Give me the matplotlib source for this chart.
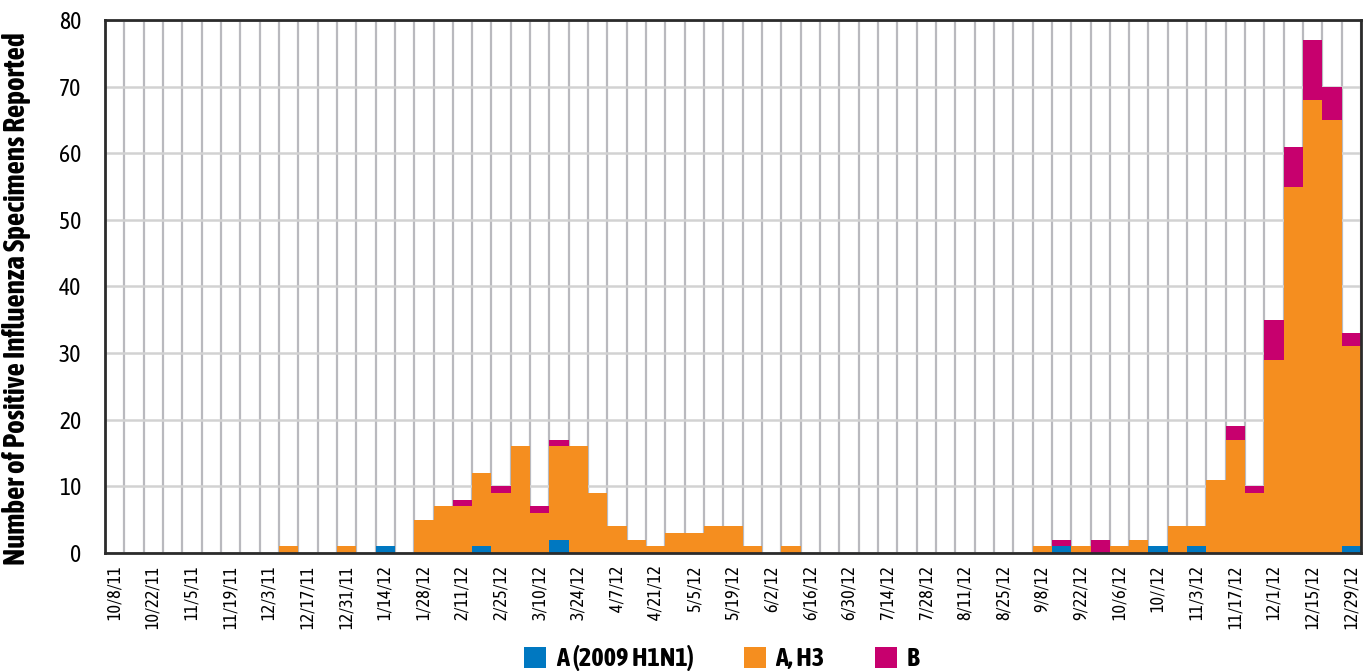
import matplotlib
matplotlib.use("Agg")
import matplotlib.pyplot as plt
from matplotlib import font_manager
import numpy as np

# Datos semanales (10/8/11 a 12/29/12, 65 semanas)
etiquetas = ["10/8/11", "10/22/11", "11/5/11", "11/19/11", "12/3/11", "12/17/11",
             "12/31/11", "1/14/12", "1/28/12", "2/11/12", "2/25/12", "3/10/12",
             "3/24/12", "4/7/12", "4/21/12", "5/5/12", "5/19/12", "6/2/12",
             "6/16/12", "6/30/12", "7/14/12", "7/28/12", "8/11/12", "8/25/12",
             "9/8/12", "9/22/12", "10/6/12", "10//12", "11/3/12", "11/17/12",
             "12/1/12", "12/15/12", "12/29/12"]

h1n1 = [0, 0, 0, 0, 0, 0, 0, 0, 0, 0, 0, 0, 0, 0, 1, 0, 0, 0, 0, 1,
        0, 0, 0, 2, 0, 0, 0, 0, 0, 0, 0, 0, 0, 0, 0, 0, 0, 0, 0, 0,
        0, 0, 0, 0, 0, 0, 0, 0, 0, 1, 0, 0, 0, 0, 1, 0, 1, 0, 0, 0,
        0, 0, 0, 0, 1]

h3 = [0, 0, 0, 0, 0, 0, 0, 0, 0, 1, 0, 0, 1, 0, 0, 0, 5, 7, 7, 11,
      9, 16, 6, 14, 16, 9, 4, 2, 1, 3, 3, 4, 4, 1, 0, 1, 0, 0, 0, 0,
      0, 0, 0, 0, 0, 0, 0, 0, 1, 0, 1, 0, 1, 2, 0, 4, 3, 11, 17, 9,
      29, 55, 68, 65, 30]

tipo_b = [0, 0, 0, 0, 0, 0, 0, 0, 0, 0, 0, 0, 0, 0, 0, 0, 0, 0, 1, 0,
          1, 0, 1, 1, 0, 0, 0, 0, 0, 0, 0, 0, 0, 0, 0, 0, 0, 0, 0, 0,
          0, 0, 0, 0, 0, 0, 0, 0, 0, 1, 0, 2, 0, 0, 0, 0, 0, 0, 2, 1,
          6, 6, 9, 5, 2]

azul = "#0078c1"
naranja = "#f58e1f"
magenta = "#c7006e"


def peso(f):
    # el peso puede venir como numero o como texto
    if isinstance(f.weight, (int, float)):
        return f.weight
    return {"bold": 700, "heavy": 800, "black": 900}.get(str(f.weight), 400)


# Buscamos una fuente estrecha que tenga negrita
estrechas = [f for f in font_manager.fontManager.ttflist
             if ("Condensed" in f.name or "Narrow" in f.name
                 or f.stretch in ("condensed", "semi-condensed"))
             and peso(f) >= 600 and f.style == "normal"]
estrechas.sort(key=lambda f: (f.name, peso(f)))
if estrechas:
    fuente = [estrechas[0].name, "DejaVu Sans"]
    ancho = estrechas[0].stretch
else:
    fuente = ["DejaVu Sans"]
    ancho = "condensed"
plt.rcParams["font.family"] = fuente
plt.rcParams["font.stretch"] = ancho

x = np.arange(len(h3))
h1n1 = np.array(h1n1)
h3 = np.array(h3)
tipo_b = np.array(tipo_b)

fig = plt.figure(figsize=(13.69, 6.71), dpi=100)
ax = fig.add_axes([0.0767, 0.1759, 0.9175, 0.7943])

# Barras apiladas sin espacio entre semanas
ax.bar(x, h1n1, width=1.0, color=azul, label="A (2009 H1N1)", zorder=3)
ax.bar(x, h3, width=1.0, bottom=h1n1, color=naranja, label="A, H3", zorder=3)
ax.bar(x, tipo_b, width=1.0, bottom=h1n1 + h3, color=magenta, label="B", zorder=3)

ax.set_xlim(-0.5, len(h3) - 0.5)
ax.set_ylim(0, 80)
ax.set_yticks(np.arange(0, 81, 10))
ax.set_xticks(x[::2])
ax.set_xticklabels(etiquetas, rotation=90, fontsize=13)
ax.set_xticks(np.arange(-0.5, len(h3), 1), minor=True)
ax.tick_params(axis="both", which="both", length=0)
ax.tick_params(axis="x", pad=9)
ax.tick_params(axis="y", pad=17, labelsize=17)

# Rejilla: vertical en cada semana, horizontal cada 10
ax.grid(axis="x", which="minor", color="#b9b9be", linewidth=1.6, zorder=1)
ax.grid(axis="y", which="major", color="#d2d2d2", linewidth=1.8, zorder=1)
ax.set_axisbelow(True)

for lado in ["left", "bottom", "top", "right"]:
    ax.spines[lado].set_color("#2b2b2b")
    ax.spines[lado].set_linewidth(2)
    ax.spines[lado].set_zorder(4)

ax.set_ylabel("Number of Positive Influenza Specimens Reported",
              fontsize=21, fontweight="bold")
ax.yaxis.set_label_coords(-0.059, 0.477)

# Leyenda
fig.legend(loc="lower center", bbox_to_anchor=(0.527, -0.036), ncol=3, frameon=False,
           prop={"size": 19, "weight": "bold"}, handlelength=0.85, handleheight=0.85,
           columnspacing=1.9, handletextpad=0.35)

fig.savefig("out.png", dpi=100)
